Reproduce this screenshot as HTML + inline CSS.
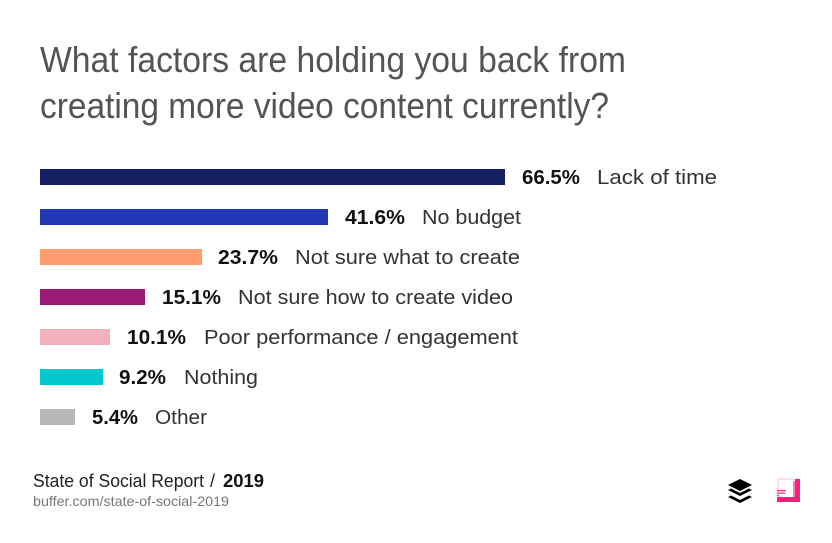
<!DOCTYPE html>
<html>
<head>
<meta charset="utf-8">
<style>
  html,body{margin:0;padding:0;background:#fff;}
  svg{display:block;}
  text{font-family:"Liberation Sans",Arial,sans-serif;}
</style>
</head>
<body>
<svg width="832" height="543" viewBox="0 0 832 543" xmlns="http://www.w3.org/2000/svg">
  <rect width="832" height="543" fill="#fff"/>
  <!-- Title -->
  <text x="40" y="72" font-size="36" fill="#545454" textLength="586" lengthAdjust="spacingAndGlyphs">What factors are holding you back from</text>
  <text x="40" y="118" font-size="36" fill="#545454" textLength="569" lengthAdjust="spacingAndGlyphs">creating more video content currently?</text>

  <!-- Bars -->
  <rect x="40" y="169" width="465" height="16" fill="#141f62"/>
  <rect x="40" y="209" width="288" height="16" fill="#2237b3"/>
  <rect x="40" y="249" width="162" height="16" fill="#ff9b6c"/>
  <rect x="40" y="289" width="105" height="16" fill="#9a1a76"/>
  <rect x="40" y="329" width="70" height="16" fill="#f2b0bb"/>
  <rect x="40" y="369" width="63" height="16" fill="#00c6ce"/>
  <rect x="40" y="409" width="35" height="16" fill="#b8b8b8"/>

  <!-- Values -->
  <g font-size="20" font-weight="bold" fill="#111">
    <text x="522" y="184" textLength="58" lengthAdjust="spacingAndGlyphs">66.5%</text>
    <text x="345" y="224" textLength="60" lengthAdjust="spacingAndGlyphs">41.6%</text>
    <text x="218" y="264" textLength="60" lengthAdjust="spacingAndGlyphs">23.7%</text>
    <text x="162" y="304" textLength="59" lengthAdjust="spacingAndGlyphs">15.1%</text>
    <text x="127" y="344" textLength="59" lengthAdjust="spacingAndGlyphs">10.1%</text>
    <text x="119" y="384" textLength="47" lengthAdjust="spacingAndGlyphs">9.2%</text>
    <text x="92" y="424" textLength="46" lengthAdjust="spacingAndGlyphs">5.4%</text>
  </g>
  <!-- Labels -->
  <g font-size="20" fill="#333">
    <text x="597" y="184" textLength="120" lengthAdjust="spacingAndGlyphs">Lack of time</text>
    <text x="422" y="224" textLength="99" lengthAdjust="spacingAndGlyphs">No budget</text>
    <text x="295" y="264" textLength="225" lengthAdjust="spacingAndGlyphs">Not sure what to create</text>
    <text x="238" y="304" textLength="275" lengthAdjust="spacingAndGlyphs">Not sure how to create video</text>
    <text x="204" y="344" textLength="314" lengthAdjust="spacingAndGlyphs">Poor performance / engagement</text>
    <text x="184" y="384" textLength="74" lengthAdjust="spacingAndGlyphs">Nothing</text>
    <text x="155" y="424" textLength="52" lengthAdjust="spacingAndGlyphs">Other</text>
  </g>

  <!-- Footer -->
  <text x="33" y="487" font-size="18" fill="#222" textLength="171" lengthAdjust="spacingAndGlyphs">State of Social Report</text>
  <text x="210" y="487" font-size="18" fill="#222">/</text>
  <text x="223" y="487" font-size="18" font-weight="bold" fill="#111" textLength="41" lengthAdjust="spacingAndGlyphs">2019</text>
  <text x="33" y="506" font-size="14" fill="#777" textLength="196" lengthAdjust="spacingAndGlyphs">buffer.com/state-of-social-2019</text>

  <!-- Buffer logo -->
  <g fill="#000">
    <polygon points="740,479 752,485 740,491 728,485"/>
    <polygon points="731,488.5 740,493 749,488.5 752,490 740,496 728,490"/>
    <polygon points="731,495.5 740,500 749,495.5 752,497 740,503 728,497"/>
  </g>

  <!-- Pink logo -->
  <g>
    <rect x="778" y="479" width="20" height="20" fill="#fff" stroke="#ffc0d8" stroke-width="1"/>
    <rect x="795" y="479" width="5" height="23" fill="#ff1f7a"/>
    <rect x="777" y="497" width="23" height="5" fill="#ff1f7a"/>
    <rect x="793" y="481" width="2" height="16" fill="#ff7fb0"/>
    <rect x="777" y="490" width="9" height="1.2" fill="#ff1f7a"/>
    <rect x="777" y="492.5" width="8" height="1.2" fill="#ff1f7a"/>
    <rect x="777" y="495" width="2" height="1.2" fill="#ff1f7a"/>
  </g>
</svg>
</body>
</html>
